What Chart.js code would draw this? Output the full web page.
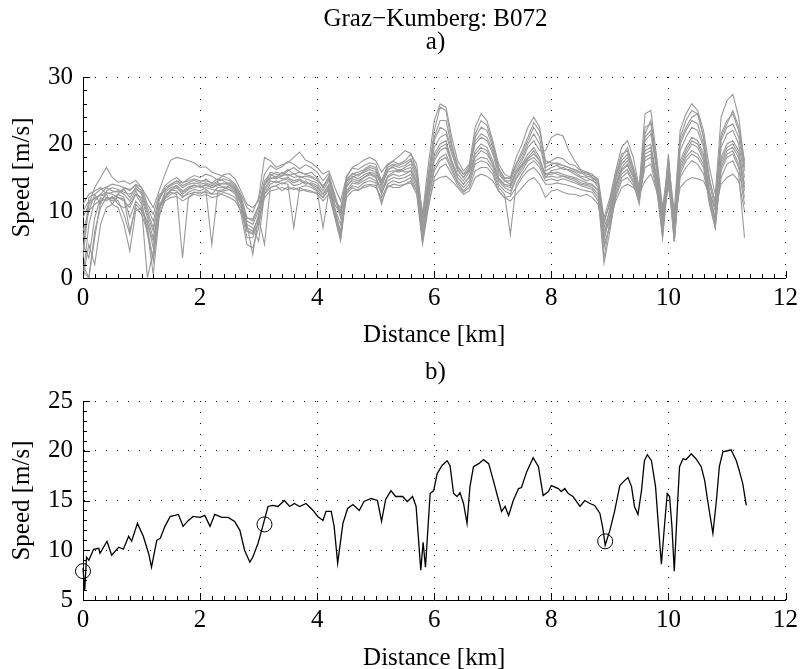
<!DOCTYPE html>
<html>
<head>
<meta charset="utf-8">
<script src="https://cdn.jsdelivr.net/npm/chart.js@4.4.0/dist/chart.umd.min.js"></script>
<style>
  body { margin: 0; background: #fff; }
  #wrap { position: relative; width: 803px; height: 669px; overflow: hidden; }
  .box { position: absolute; left: 0; width: 803px; }
  .lbl { position: absolute; left: 83px; width: 705px; text-align: center; color: #000;
         font-family: 'Liberation Serif', 'Times New Roman', serif; font-size: 25px; line-height: 25px; }
</style>
</head>
<body>
<div id="wrap">
  <div class="box" style="top:0;height:350px"><canvas id="chartA"></canvas></div>
  <div class="box" style="top:350px;height:319px"><canvas id="chartB"></canvas></div>
  <div class="lbl" style="top:5px">Graz−Kumberg: B072</div>
  <div class="lbl" style="top:28px">a)</div>
  <div class="lbl" style="top:358px">b)</div>
</div>
<script>
// ---- a) all runs, sampled every 0.1 km ----
const distA = [
  0.0, 0.1, 0.2, 0.3, 0.4, 0.5, 0.6, 0.7, 0.8, 0.9,
  1.0, 1.1, 1.2, 1.3, 1.4, 1.5, 1.6, 1.7, 1.8, 1.9,
  2.0, 2.1, 2.2, 2.3, 2.4, 2.5, 2.6, 2.7, 2.8, 2.9,
  3.0, 3.1, 3.2, 3.3, 3.4, 3.5, 3.6, 3.7, 3.8, 3.9,
  4.0, 4.1, 4.2, 4.3, 4.4, 4.5, 4.6, 4.7, 4.8, 4.9,
  5.0, 5.1, 5.2, 5.3, 5.4, 5.5, 5.6, 5.7, 5.8, 5.9,
  6.0, 6.1, 6.2, 6.3, 6.4, 6.5, 6.6, 6.7, 6.8, 6.9,
  7.0, 7.1, 7.2, 7.3, 7.4, 7.5, 7.6, 7.7, 7.8, 7.9,
  8.0, 8.1, 8.2, 8.3, 8.4, 8.5, 8.6, 8.7, 8.8, 8.9,
  9.0, 9.1, 9.2, 9.3, 9.4, 9.5, 9.6, 9.7, 9.8, 9.9,
  10.0, 10.1, 10.2, 10.3, 10.4, 10.5, 10.6, 10.7, 10.8, 10.9,
  11.0, 11.1, 11.2, 11.3
];

const run1 = [
  3, 11, 13.5, 15, 16.5, 15, 14.3, 14.5, 14, 14.6,
  13.5, 12, 10.5, 13, 15.5, 17.6, 18, 17.8, 17.5, 17.2,
  16.5, 16.6, 15.8, 15.5, 15.2, 14.8, 14.0, 12.5, 10.5, 9.8,
  12, 18, 17.5, 16.5, 16.9, 17.2, 18.0, 18.8, 17.6, 17.2,
  16.5, 15.5, 16.0, 13.5, 11.5, 15.0, 16.5, 17.0, 17.6, 18.0,
  17.5, 15.8, 17.0, 17.5, 18.2, 19.0, 18.6, 16.0, 9.5, 17.0,
  23.5, 26.0, 25.5, 21.0, 17.5, 16.0, 17.0, 22.5, 24.5, 23.5,
  20.5, 17.0, 15.5, 15.0, 18.0, 20.0, 22.5, 24.0, 22.5, 17.0,
  17.5, 18.0, 17.8, 17.0, 16.8, 16.0, 15.5, 15.3, 14.8, 9.0,
  12.0, 16.0, 19.5, 20.5, 18.0, 13.5, 24.5, 25.0, 18.0, 10.5,
  17.0, 10.0, 22.0, 24.5, 26.0, 25.0, 22.0, 16.5, 12.5, 24.0,
  26.5, 27.4, 24.0, 17.0
];
const run2 = [
  6, 10, 12.5, 13.2, 13.6, 14, 13.8, 13.5, 13.2, 13.8,
  13, 10.5, 8.5, 12.0, 13.8, 14.5, 15.0, 14.2, 14.8, 15.3,
  15.0, 15.5, 15.2, 14.6, 15.4, 15.6, 14.8, 13.0, 11.0, 10.5,
  11.5, 15.5, 16.8, 16.2, 16.6, 17.4, 17.0, 16.3, 16.9, 16.5,
  15.8, 14.5, 15.6, 12.0, 10.0, 15.2, 16.4, 16.2, 16.8, 17.2,
  17.0, 14.5, 16.8, 17.4, 17.0, 17.5, 18.5, 17.0, 9.0, 15.5,
  22.0, 25.5, 25.0, 20.0, 16.5, 15.5, 16.0, 21.5, 23.5, 22.8,
  20.0, 16.5, 14.8, 15.0, 17.0, 19.0, 21.0, 23.2, 22.0, 17.5,
  17.2, 17.0, 16.8, 16.5, 16.0, 15.6, 15.8, 15.0, 14.5, 8.0,
  11.5, 15.5, 18.5, 19.0, 16.5, 13.0, 22.5, 23.0, 17.0, 9.5,
  16.5, 9.0, 21.0, 23.5, 25.0, 24.5, 21.0, 15.0, 11.0, 21.5,
  23.5, 24.5, 22.0, 16.5
];
const run3 = [
  0, 8, 11.5, 12.5, 13.5, 13.0, 12.8, 13.2, 12.0, 13.5,
  12.5, 9.5, 7.0, 11.5, 13.5, 14.0, 14.5, 13.8, 14.2, 14.6,
  14.2, 14.8, 14.0, 14.4, 14.8, 14.5, 13.8, 12.0, 8.5, 8.0,
  10.0, 14.0, 15.8, 15.5, 15.2, 16.0, 16.5, 15.8, 15.5, 15.8,
  15.0, 13.5, 15.0, 11.0, 9.5, 14.5, 15.6, 15.2, 16.0, 16.5,
  16.2, 13.5, 16.0, 16.8, 16.5, 16.8, 17.5, 15.5, 8.0, 14.0,
  19.5, 21.0, 21.5, 18.5, 16.0, 15.0, 16.5, 20.0, 21.0, 20.5,
  18.5, 15.5, 14.5, 14.0, 16.0, 17.5, 19.5, 20.5, 19.0, 19.0,
  21.0, 21.5, 21.2, 19.0, 17.5, 16.2, 15.8, 15.5, 14.5, 6.0,
  10.5, 14.5, 17.0, 18.0, 16.0, 12.5, 20.5, 21.5, 16.0, 8.0,
  18.0, 7.0, 19.0, 21.0, 22.5, 22.0, 19.5, 13.0, 10.0, 19.5,
  21.5, 22.0, 20.0, 15.0
];
const run4 = [
  9, 11, 12.0, 12.3, 12.8, 12.5, 12.0, 11.5, 10.5, 12.5,
  12.0, 9.0, 6.0, 10.5, 12.8, 13.5, 13.8, 13.0, 13.6, 13.9,
  13.5, 14.0, 13.5, 13.8, 14.2, 13.8, 13.5, 11.5, 9.0, 8.5,
  10.5, 13.8, 15.0, 14.8, 15.3, 15.5, 15.0, 15.2, 14.8, 14.5,
  14.2, 13.0, 14.6, 11.5, 10.5, 14.0, 15.2, 14.8, 15.4, 15.8,
  15.5, 14.0, 15.8, 16.0, 15.8, 16.2, 16.5, 14.5, 7.5, 13.0,
  18.5, 20.0, 20.5, 17.5, 15.5, 14.5, 15.8, 19.0, 20.0, 19.5,
  17.5, 15.0, 14.0, 13.8, 15.8, 17.0, 18.5, 19.5, 18.0, 15.0,
  16.0, 16.2, 16.5, 16.0, 15.5, 15.0, 14.5, 14.8, 13.5, 5.5,
  9.5, 14.0, 16.5, 17.5, 15.5, 12.0, 19.5, 20.0, 15.0, 7.0,
  17.0, 6.0, 17.5, 19.5, 21.0, 20.5, 18.5, 12.5, 9.0, 18.0,
  20.0, 20.5, 19.0, 14.0
];
const run5 = [
  2, 0, 6, 11.5, 12.5, 12.8, 13.0, 12.5, 11.5, 13.0,
  11.5, 6.5, 3.0, 10.0, 12.5, 13.0, 13.5, 12.5, 13.2, 13.5,
  13.8, 13.2, 12.5, 13.5, 13.6, 13.5, 13.0, 11.0, 7.0, 6.5,
  9.5, 13.0, 14.5, 14.2, 14.6, 14.8, 14.2, 14.6, 14.0, 14.2,
  13.8, 12.5, 14.0, 10.5, 8.0, 13.5, 14.8, 14.5, 15.0, 15.4,
  15.0, 12.5, 15.0, 15.5, 15.2, 15.5, 16.0, 14.0, 6.0, 12.5,
  17.5, 19.0, 19.5, 17.0, 15.0, 14.0, 15.0, 18.0, 19.0, 18.5,
  17.0, 14.5, 13.5, 13.0, 15.0, 16.5, 17.8, 18.5, 17.5, 15.5,
  15.5, 15.8, 15.5, 15.2, 15.0, 14.6, 14.2, 14.0, 13.0, 3.0,
  8.5, 13.5, 16.0, 16.8, 15.0, 11.8, 18.5, 19.0, 14.5, 6.5,
  16.0, 5.5, 16.5, 18.5, 20.0, 19.5, 17.5, 12.0, 8.0, 17.0,
  19.0, 19.5, 18.0, 13.0
];
const run6 = [
  10, 11.5, 11.8, 12.5, 12.0, 11.8, 12.5, 12.0, 9.0, 11.5,
  10.5, 0, 4.0, 11.0, 12.0, 13.2, 13.0, 12.0, 12.8, 13.2,
  13.0, 13.5, 13.2, 13.0, 13.2, 13.8, 13.2, 11.8, 8.0, 7.5,
  5.5, 12.5, 14.0, 14.5, 14.0, 14.5, 13.8, 14.0, 14.5, 13.8,
  13.2, 12.0, 13.5, 10.0, 7.0, 13.0, 14.2, 14.0, 14.5, 15.0,
  14.5, 12.8, 14.5, 15.0, 14.8, 15.0, 15.5, 13.5, 5.5, 12.0,
  16.5, 18.0, 18.5, 16.5, 14.5, 13.5, 14.5, 17.5, 18.0, 17.8,
  16.5, 14.0, 13.0, 12.5, 14.8, 16.0, 17.5, 18.0, 17.0, 15.0,
  15.2, 15.0, 15.2, 14.8, 14.5, 14.0, 13.8, 13.5, 12.5, 4.5,
  8.0, 13.0, 15.5, 16.2, 14.5, 11.5, 18.0, 18.5, 14.0, 6.0,
  15.5, 5.5, 16.0, 18.0, 19.0, 18.5, 17.0, 11.5, 7.5, 16.5,
  18.5, 19.0, 17.0, 12.0
];
const run7 = [
  5, 3, 9, 12.0, 11.5, 12.2, 11.0, 10.5, 11.0, 12.5,
  11.0, 8.0, 5.5, 10.5, 12.2, 12.8, 12.5, 3.0, 12.0, 12.8,
  12.5, 13.0, 5.0, 12.8, 13.0, 13.2, 12.5, 11.0, 7.5, 7.0,
  9.0, 5.0, 13.5, 13.8, 14.2, 14.0, 7.5, 13.5, 13.8, 13.5,
  13.0, 7.5, 13.0, 9.5, 6.0, 12.8, 13.8, 13.5, 14.2, 14.5,
  14.2, 11.0, 14.0, 14.5, 14.2, 14.5, 15.0, 13.0, 5.5, 11.5,
  16.0, 17.5, 18.0, 16.0, 14.2, 13.0, 14.0, 17.0, 17.5, 17.2,
  16.0, 13.5, 12.5, 6.5, 14.0, 15.5, 16.8, 17.5, 16.5, 14.5,
  14.8, 14.5, 14.8, 14.5, 14.2, 13.8, 13.5, 13.2, 12.0, 2.2,
  7.0, 12.5, 15.0, 15.8, 14.2, 11.0, 17.5, 18.0, 13.5, 6.0,
  15.0, 5.4, 15.5, 17.5, 18.5, 18.0, 16.5, 11.0, 7.4, 16.0,
  18.0, 18.5, 16.5, 11.0
];
const run8 = [
  0, 5, 2, 8, 10.5, 11.0, 10.5, 8.0, 4.0, 10.0,
  10.5, 7.5, 2.5, 9.5, 11.5, 12.0, 12.2, 11.5, 12.0, 12.5,
  12.2, 12.5, 12.0, 12.2, 12.8, 12.5, 12.0, 10.5, 6.0, 6.0,
  8.5, 12.0, 13.0, 13.2, 13.5, 13.2, 13.5, 13.0, 13.2, 13.0,
  12.5, 11.5, 12.5, 9.0, 5.5, 12.5, 13.5, 13.0, 13.8, 14.0,
  13.8, 11.5, 13.5, 14.0, 13.8, 14.0, 14.2, 12.5, 5.0, 10.5,
  15.0, 16.5, 17.0, 15.5, 13.8, 12.8, 13.5, 16.0, 16.5, 16.5,
  15.5, 13.0, 12.0, 12.2, 13.5, 15.0, 16.0, 16.5, 15.5, 14.0,
  14.0, 14.2, 14.0, 13.8, 13.5, 13.2, 13.0, 12.8, 11.5, 5.0,
  7.5, 12.0, 14.5, 15.0, 13.8, 12.0, 16.5, 17.0, 13.0, 7.5,
  14.5, 6.5, 15.0, 16.5, 17.5, 17.0, 15.5, 12.0, 9.0, 15.0,
  17.0, 17.5, 15.5, 6.0
];
const run9 = [
  7, 10, 11.0, 11.5, 11.8, 12.0, 11.5, 9.5, 6.5, 11.0,
  10.0, 8.5, 4.5, 10.5, 11.8, 12.5, 12.8, 12.2, 12.5, 12.8,
  12.8, 12.8, 12.5, 12.6, 12.4, 12.0, 11.5, 10.0, 7.0, 6.8,
  8.0, 12.5, 13.5, 13.8, 13.0, 13.6, 13.2, 13.5, 13.0, 12.8,
  12.8, 12.0, 13.2, 9.5, 6.5, 12.0, 13.0, 13.2, 13.5, 13.8,
  13.5, 12.0, 13.8, 13.5, 13.5, 14.0, 14.5, 13.0, 6.5, 11.0,
  14.5, 15.0, 15.2, 14.5, 13.5, 12.5, 13.0, 15.0, 15.5, 15.2,
  14.5, 13.0, 12.0, 11.5, 12.5, 13.5, 14.5, 15.0, 14.0, 12.0,
  13.0, 13.2, 12.8, 12.5, 12.5, 12.2, 12.5, 12.0, 11.0, 6.5,
  8.5, 11.5, 13.5, 14.0, 13.5, 12.5, 14.5, 15.5, 13.0, 9.0,
  13.5, 8.5, 13.5, 14.5, 15.0, 14.8, 14.5, 12.5, 10.5, 14.0,
  15.0, 15.5, 14.5, 10.0
];
const run10 = [
  1, 0, 7, 10.5, 12.0, 11.5, 12.0, 11.8, 7.0, 10.5,
  9.5, 7.0, 0.5, 9.0, 12.0, 13.2, 13.8, 12.8, 13.4, 13.8,
  13.6, 13.8, 13.5, 14.0, 13.5, 13.2, 12.8, 9.5, 5.0, 4.5,
  7.5, 13.2, 14.8, 15.2, 14.8, 15.0, 14.5, 14.8, 14.2, 14.0,
  13.5, 12.5, 13.8, 10.5, 6.0, 13.8, 14.5, 14.2, 15.0, 15.6,
  15.2, 13.0, 15.2, 15.8, 16.2, 15.8, 16.0, 14.2, 7.0, 13.5,
  18.0, 19.5, 20.0, 17.2, 15.0, 14.0, 15.2, 18.5, 19.5, 19.0,
  17.0, 14.8, 13.8, 13.5, 15.5, 16.8, 18.0, 19.0, 17.5, 15.5,
  15.8, 15.5, 15.2, 15.0, 14.8, 14.2, 14.0, 13.8, 13.2, 7.0,
  9.0, 13.8, 16.2, 17.0, 15.2, 12.2, 19.0, 19.5, 14.8, 7.0,
  16.5, 6.5, 17.0, 19.0, 20.5, 20.0, 18.0, 12.8, 8.5, 17.5,
  19.5, 20.0, 18.5, 13.5
];
const run11 = [
  4, 12, 12.5, 11.0, 13.0, 13.5, 13.2, 12.8, 12.5, 13.2,
  12.8, 10.0, 7.5, 11.8, 13.2, 13.8, 14.2, 13.5, 14.0, 14.2,
  14.0, 14.2, 13.8, 14.2, 14.0, 14.2, 13.6, 12.2, 9.0, 8.8,
  10.8, 14.5, 15.5, 15.0, 15.8, 15.2, 15.6, 15.0, 15.2, 15.0,
  14.5, 13.8, 14.8, 12.0, 9.0, 14.5, 15.0, 15.5, 15.8, 16.2,
  15.8, 14.5, 16.2, 16.5, 16.0, 16.5, 17.0, 15.0, 8.5, 14.5,
  20.5, 22.5, 22.0, 19.0, 16.2, 15.0, 16.2, 20.5, 21.5, 21.0,
  19.0, 16.0, 14.5, 14.5, 16.5, 18.0, 20.0, 21.5, 20.0, 16.0,
  16.5, 16.8, 16.2, 16.2, 15.8, 15.2, 15.0, 14.5, 14.0, 7.5,
  10.0, 15.0, 17.5, 18.5, 16.0, 12.8, 21.0, 22.0, 16.5, 8.5,
  17.5, 7.5, 20.0, 22.0, 23.5, 23.0, 20.0, 14.0, 10.5, 20.5,
  22.5, 23.0, 21.0, 16.0
];
const run12 = [
  11, 12.5, 13.0, 13.5, 12.5, 11.0, 12.5, 13.5, 13.0, 14.0,
  13.5, 11.0, 9.5, 12.5, 13.0, 14.0, 14.5, 14.2, 14.5, 14.8,
  14.5, 14.5, 14.2, 14.8, 14.5, 14.0, 13.2, 11.2, 8.0, 3.5,
  9.0, 14.0, 15.2, 15.8, 15.5, 16.2, 15.5, 15.8, 15.5, 15.2,
  14.8, 13.5, 15.2, 12.5, 9.5, 14.8, 15.5, 15.8, 16.2, 16.8,
  16.5, 14.0, 16.5, 17.0, 16.8, 17.2, 17.8, 16.0, 9.0, 15.0,
  21.0, 23.5, 23.5, 19.5, 16.8, 15.5, 16.8, 21.0, 22.5, 22.0,
  19.5, 16.2, 15.0, 14.8, 17.0, 18.5, 20.5, 22.5, 21.0, 16.5,
  17.0, 17.2, 16.8, 16.5, 16.2, 15.8, 15.2, 15.0, 14.2, 8.5,
  11.0, 15.2, 18.0, 19.5, 16.5, 13.5, 21.5, 23.5, 17.5, 9.0,
  18.5, 8.0, 20.5, 22.5, 24.0, 24.5, 21.0, 14.5, 11.5, 21.0,
  23.0, 25.0, 22.5, 17.5
];
const runsA = [run1, run2, run3, run4, run5, run6, run7, run8, run9, run10, run11, run12];

// ---- b) representative profile ----
const distB = [
  0.00, 0.03, 0.06, 0.10, 0.18, 0.27, 0.29, 0.41, 0.49, 0.61,
  0.69, 0.78, 0.83, 0.93, 1.03, 1.12, 1.17, 1.26, 1.32, 1.40,
  1.49, 1.57, 1.63, 1.71, 1.80, 1.88, 2.00, 2.08, 2.17, 2.25,
  2.37, 2.48, 2.59, 2.68, 2.76, 2.85, 2.90, 2.99, 3.07, 3.16,
  3.24, 3.33, 3.44, 3.53, 3.61, 3.70, 3.81, 3.93, 4.01, 4.10,
  4.15, 4.24, 4.29, 4.35, 4.44, 4.52, 4.61, 4.72, 4.80, 4.92,
  5.03, 5.10, 5.17, 5.26, 5.34, 5.46, 5.54, 5.63, 5.69, 5.77,
  5.81, 5.85, 5.93, 5.99, 6.05, 6.13, 6.22, 6.27, 6.33, 6.39,
  6.44, 6.50, 6.56, 6.61, 6.67, 6.76, 6.84, 6.93, 7.01, 7.10,
  7.15, 7.21, 7.27, 7.35, 7.44, 7.49, 7.58, 7.69, 7.78, 7.86,
  7.95, 8.00, 8.12, 8.17, 8.23, 8.29, 8.37, 8.49, 8.57, 8.66,
  8.74, 8.83, 8.88, 8.92, 9.00, 9.08, 9.17, 9.25, 9.31, 9.37,
  9.42, 9.48, 9.54, 9.59, 9.64, 9.71, 9.78, 9.83, 9.88, 9.94,
  9.98, 10.02, 10.06, 10.10, 10.15, 10.19, 10.25, 10.30, 10.39, 10.47,
  10.56, 10.62, 10.67, 10.76, 10.82, 10.87, 10.93, 11.01, 11.07, 11.16,
  11.21, 11.27, 11.33
];
const speedB = [
  8.2, 6.0, 9.3, 9.0, 10.1, 10.2, 9.7, 10.9, 9.5, 10.3,
  10.1, 11.4, 10.9, 12.7, 11.4, 9.7, 8.3, 11.0, 11.2, 12.4,
  13.4, 13.5, 13.6, 12.4, 13.0, 13.4, 13.3, 13.5, 12.4, 13.6,
  13.3, 13.3, 12.9, 12.0, 10.0, 8.8, 9.3, 10.7, 12.4, 14.4,
  14.5, 14.4, 15.0, 14.4, 14.7, 14.4, 14.7, 14.0, 13.4, 13.0,
  13.9, 13.9, 12.4, 8.7, 12.7, 14.2, 14.6, 14.0, 14.9, 15.2,
  15.0, 12.9, 15.1, 16.0, 15.4, 15.4, 14.9, 15.4, 14.4, 8.0,
  10.8, 8.3, 15.7, 16.0, 17.7, 18.5, 19.0, 18.5, 15.7, 15.4,
  15.8, 14.7, 12.7, 16.4, 18.4, 18.7, 19.1, 18.7, 17.0, 15.0,
  13.9, 14.4, 13.5, 15.0, 16.2, 16.3, 17.9, 19.3, 18.4, 15.5,
  15.9, 16.5, 16.2, 15.9, 16.2, 15.7, 15.4, 14.4, 15.0, 14.7,
  14.5, 13.7, 12.2, 10.5, 12.0, 13.9, 16.5, 17.0, 17.3, 16.4,
  14.4, 13.6, 16.0, 19.0, 19.6, 19.0, 16.4, 12.4, 8.6, 13.0,
  15.7, 15.4, 12.4, 7.9, 14.0, 18.4, 19.2, 19.1, 19.7, 19.2,
  18.4, 17.0, 15.0, 11.7, 15.0, 18.4, 19.9, 20.0, 20.1, 19.0,
  18.0, 16.7, 14.5
];
// circled points
const markDist = [0.0, 3.1, 8.92];
const markSpeed = [7.9, 12.6, 10.9];

const xTicks = [0, 2, 4, 6, 8, 10, 12];

const serif = "'Liberation Serif', 'Times New Roman', serif";

// MATLAB-like inward ticks (major + minor) on left and bottom axes
const innerTicks = {
  id: 'innerTicks',
  afterDraw(chart, args, opts) {
    const {ctx, chartArea} = chart;
    const xs = chart.scales.x, ys = chart.scales.y;
    ctx.save();
    ctx.strokeStyle = '#000';
    ctx.lineWidth = 1;
    ctx.beginPath();
    const nx = Math.round((xs.max - xs.min) / opts.xMinor);
    for (let i = 0; i <= nx; i++) {
      const v = xs.min + i * opts.xMinor;
      const px = Math.round(xs.getPixelForValue(v)) + 0.5;
      const len = (i % opts.xEvery === 0) ? 7 : 4;
      ctx.moveTo(px, chartArea.bottom);
      ctx.lineTo(px, chartArea.bottom - len);
    }
    const ny = Math.round((ys.max - ys.min) / opts.yMinor);
    for (let i = 0; i <= ny; i++) {
      const v = ys.min + i * opts.yMinor;
      const py = Math.round(ys.getPixelForValue(v)) + 0.5;
      const len = (i % opts.yEvery === 0) ? 7 : 4;
      ctx.moveTo(chartArea.left, py);
      ctx.lineTo(chartArea.left + len, py);
    }
    ctx.stroke();
    ctx.restore();
  }
};

function axes(yMin, yMax, yStep, xHeight, xTitlePad) {
  return {
    x: {
      type: 'linear', min: 0, max: 12,
      afterBuildTicks: (s) => { s.ticks = xTicks.map(v => ({value: v})); },
      ticks: { font: {family: serif, size: 25}, color: '#000', padding: 5, maxRotation: 0 },
      grid: { color: '#000', lineWidth: 1, drawTicks: false },
      border: { display: true, color: '#000', width: 1, dash: [1, 10] },
      title: { display: true, text: 'Distance [km]', color: '#000',
               font: {family: serif, size: 25, lineHeight: 1}, padding: {top: 0, bottom: xTitlePad} },
      afterFit: (s) => { s.height = xHeight; }
    },
    y: {
      type: 'linear', min: yMin, max: yMax,
      ticks: { stepSize: yStep, font: {family: serif, size: 25}, color: '#000', padding: 10 },
      grid: { color: '#000', lineWidth: 1, drawTicks: false },
      border: { display: true, color: '#000', width: 1, dash: [1, 10] },
      title: { display: true, text: 'Speed [m/s]', color: '#000',
               font: {family: serif, size: 25, lineHeight: 1}, padding: {top: 10, bottom: 0} },
      afterFit: (s) => { s.width = 83; }
    }
  };
}

new Chart(document.getElementById('chartA'), {
  type: 'line',
  data: {
    datasets: runsA.map(r => ({
      data: distA.map((d, i) => ({x: d, y: r[i]})),
      borderColor: '#999999',
      borderWidth: 1.1,
      pointRadius: 0,
      tension: 0
    }))
  },
  options: {
    responsive: true,
    maintainAspectRatio: false,
    animation: false,
    layout: { padding: {top: 77, right: 15, left: 0, bottom: 0} },
    plugins: {
      legend: {display: false}, tooltip: {enabled: false},
      innerTicks: {xMinor: 0.2, xEvery: 10, yMinor: 2, yEvery: 5}
    },
    scales: axes(0, 30, 10, 72, 2)
  },
  plugins: [innerTicks]
});

new Chart(document.getElementById('chartB'), {
  type: 'line',
  data: {
    datasets: [
      {
        data: distB.map((d, i) => ({x: d, y: speedB[i]})),
        borderColor: '#000',
        borderWidth: 1.3,
        pointRadius: 0,
        tension: 0
      },
      {
        data: markDist.map((d, i) => ({x: d, y: markSpeed[i]})),
        showLine: false,
        pointStyle: 'circle',
        pointRadius: 7.5,
        pointBorderWidth: 1,
        pointBorderColor: '#000',
        pointBackgroundColor: 'rgba(0,0,0,0)'
      }
    ]
  },
  options: {
    responsive: true,
    maintainAspectRatio: false,
    animation: false,
    clip: false,
    layout: { padding: {top: 51, right: 15, left: 0, bottom: 0} },
    plugins: {
      legend: {display: false}, tooltip: {enabled: false},
      innerTicks: {xMinor: 0.2, xEvery: 10, yMinor: 1, yEvery: 5}
    },
    scales: axes(5, 25, 5, 69, -2)
  },
  plugins: [innerTicks]
});
</script>
</body>
</html>
